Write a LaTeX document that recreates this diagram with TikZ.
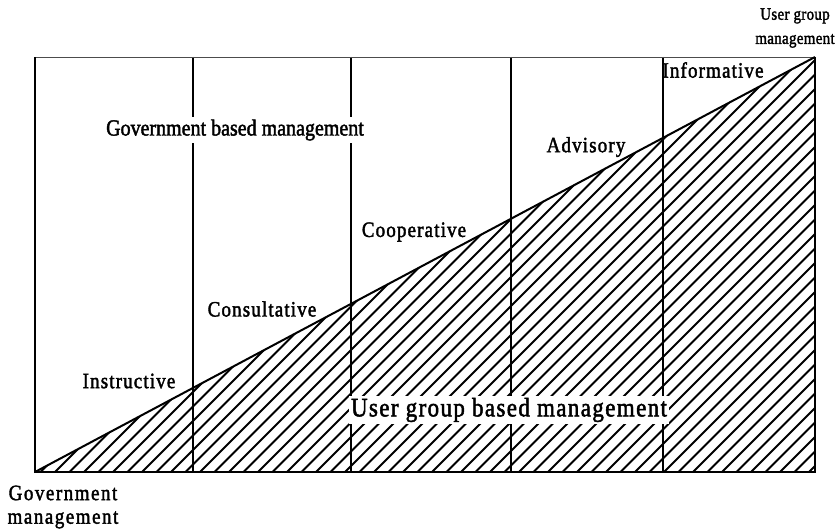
\documentclass[tikz,border=0pt]{standalone}
\usepackage{fontspec}
\setmainfont{Liberation Serif}
\newfontfamily\lblfont[LetterSpace=6,FakeBold=2]{Liberation Serif}
\newfontfamily\widefont[LetterSpace=8,FakeBold=2]{Liberation Serif}
\newfontfamily\plainfont[FakeBold=2]{Liberation Serif}
\newfontfamily\narrowfont[LetterSpace=2,FakeBold=2]{Liberation Serif}
\begin{document}
\begin{tikzpicture}[x=1pt,y=-1pt,
  tall/.style={yscale=1.15, transform shape},
  lbl/.style={tall, font=\lblfont\fontsize{19}{23}\selectfont, inner sep=1pt},
  biglbl/.style={tall, fill=white, inner sep=2pt},
  frame/.style={line width=1.9pt},
  divider/.style={line width=1.6pt},
  hatch/.style={line width=2.1pt},
  edge/.style={line width=2pt}]
\useasboundingbox (0,0) rectangle (836,532);
% corners
\coordinate (TL) at (35,57);
\coordinate (TR) at (815,57);
\coordinate (BL) at (35,472);
\coordinate (BR) at (815,472);
% hatching below diagonal
\begin{scope}
  \clip (BL) -- (TR) -- (BR) -- cycle;
  \foreach \k in {0,...,90} {
    \draw[hatch] ({35-415+\k*14.5},472) -- ++(415,-415);
  }
\end{scope}
% dividers
\foreach \xx/\nm in {193/a,351/b,511/c,663/d} {
  \coordinate (top\nm) at (\xx,57);
  \coordinate (bot\nm) at (\xx,472);
  \draw[divider] (top\nm) -- (bot\nm);
}
% frame
\draw[line width=0.8pt, black!70] (TL) -- (TR);
\draw[frame] (TR) -- (BR) -- (BL) -- (TL);
% diagonal
\draw[edge] (BL) -- (TR);
% labels
\node[lbl] (inf) at (713,70) {Informative};
\node[lbl] (adv) at (586,147) {Advisory};
\node[lbl] (coop) at (414,232) {Cooperative};
\node[lbl] (cons) at (262,309) {Consultative};
\node[lbl] (instr) at (129,381) {Instructive};
\node[biglbl, font=\plainfont\fontsize{20}{24}\selectfont] (gov) at (235,130) {Government based management};
\node[biglbl, font=\lblfont\fontsize{23}{27}\selectfont] (ugb) at (509,410) {User group based management};
\node[tall, inner sep=0pt, align=center, font=\narrowfont\fontsize{15}{21}\selectfont] (ugm) at (795,28) {User group\\management};
\node[tall, inner sep=0pt, align=center, font=\widefont\fontsize{19}{20.5}\selectfont] (gm) at (63,507) {Government\\management};
\end{tikzpicture}
\end{document}
